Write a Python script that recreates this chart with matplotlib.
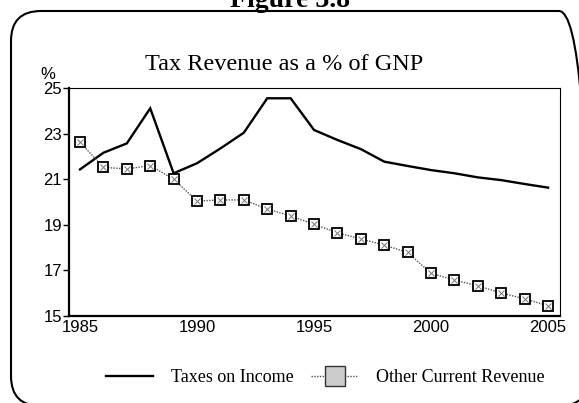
import matplotlib.pyplot as plt
from matplotlib.lines import Line2D
from matplotlib.patches import FancyBboxPatch
from matplotlib.transforms import IdentityTransform

years = list(range(1985, 2006))
taxesIncome = [21.43, 22.16, 22.57, 24.11, 21.26, 21.70, 22.35, 23.04, 24.55, 24.55,
               23.16, 22.72, 22.32, 21.77, 21.58, 21.40, 21.26, 21.08, 20.96, 20.79, 20.63]
otherRevenue = [22.62, 21.52, 21.45, 21.60, 21.00, 20.04, 20.09, 20.09, 19.69, 19.39,
                19.02, 18.65, 18.38, 18.11, 17.79, 16.87, 16.58, 16.32, 16.01, 15.75, 15.45]
yTicks = [15, 17, 19, 21, 23, 25]
xTicks = [1985, 1990, 1995, 2000, 2005]

serif = 'Liberation Serif'
sans = 'Liberation Sans'

fig = plt.figure(figsize=(5.79, 4.03), dpi=100)
ax = fig.add_axes([0.1192, 0.2159, 0.848, 0.5657])

# rounded frame around the whole chart (partly off the page, like the scan)
frame = FancyBboxPatch((11, -3), 578, 395, boxstyle='round,pad=0,rounding_size=30',
                       transform=IdentityTransform(), fill=False, edgecolor='black',
                       linewidth=1.5, clip_on=False)
fig.add_artist(frame)

fig.text(0.5, 1 - 7 / 403, 'Figure 3.8', ha='center', va='baseline',
         fontsize=20, fontweight='bold', family=serif)
fig.text(0.49, 1 - 70 / 403, 'Tax Revenue as a % of GNP', ha='center', va='baseline',
         fontsize=17.5, family=serif)

ax.plot(years, taxesIncome, color='black', linewidth=1.7, solid_joinstyle='miter')
ax.plot(years, otherRevenue, color='#555555', linewidth=1.0, linestyle=(0, (1, 1)),
        marker='s', markersize=7.5, markerfacecolor='white', markeredgecolor='black',
        markeredgewidth=1.3, zorder=3)
ax.plot(years, otherRevenue, linestyle='none', marker='x', markersize=3.8,
        markeredgecolor='#777777', markeredgewidth=0.7, zorder=4)

ax.set_xlim(1984.53, 2005.51)
ax.set_ylim(15, 25)
ax.set_xticks(xTicks)
ax.set_yticks(yTicks)
ax.tick_params(axis='y', length=4, width=1, pad=1, labelsize=12)
ax.tick_params(axis='x', length=0, pad=3, labelsize=12)
for lbl in ax.get_xticklabels() + ax.get_yticklabels():
    lbl.set_family(sans)

for side in ['left', 'bottom']:
    ax.spines[side].set_linewidth(1.6)
for side in ['top', 'right']:
    ax.spines[side].set_linewidth(0.8)

fig.text(48 / 579, 1 - 79 / 403, '%', ha='center', va='baseline', fontsize=12, family=sans)

handles = [
    Line2D([], [], color='black', linewidth=1.7),
    Line2D([], [], color='#555555', linewidth=1.0, linestyle=(0, (1, 1)), marker='s',
           markersize=14, markerfacecolor='#cccccc', markeredgecolor='#333333',
           markeredgewidth=1.0),
]
fig.legend(handles, ['Taxes on Income', 'Other Current Revenue'], loc='center',
           bbox_to_anchor=(0.562, 1 - 378 / 403), ncol=2, frameon=False,
           handlelength=2.6, handletextpad=1.0, columnspacing=1.0,
           prop={'family': serif, 'size': 13})

fig.savefig('out.png', dpi=100)
